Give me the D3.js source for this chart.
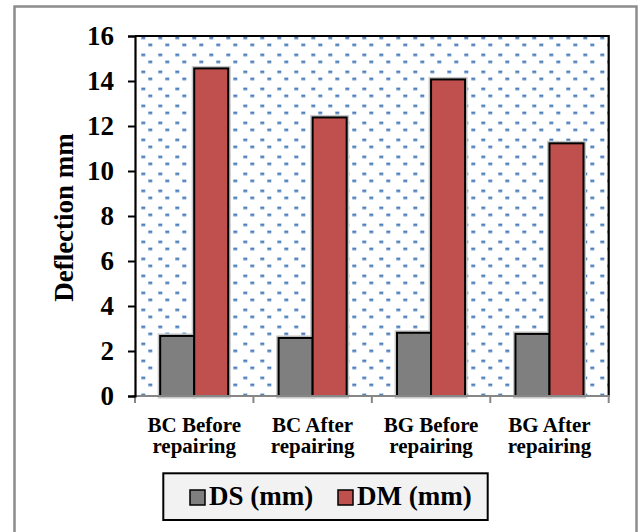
<!DOCTYPE html>
<html>
<head>
<meta charset="utf-8">
<script src="https://cdn.jsdelivr.net/npm/d3@7"></script>
<style>
  body { margin: 0; background: #fff; }
  svg { display: block; }
  text { font-family: "Times New Roman", "Liberation Serif", serif; font-weight: bold; fill: #000; }
</style>
</head>
<body>
<svg id="chart" width="639" height="532"></svg>
<script>
// Mid-span deflection of beams before and after repair
const categories = ["BC Before repairing", "BC After repairing", "BG Before repairing", "BG After repairing"];
const categoryLines = [["BC Before", "repairing"], ["BC After", "repairing"], ["BG Before", "repairing"], ["BG After", "repairing"]];
const seriesNames = ["DS (mm)", "DM (mm)"];
const dsValues = [2.67, 2.58, 2.81, 2.76];
const dmValues = [14.56, 12.38, 14.07, 11.23];
const seriesColors = ["#7f7f7f", "#c0504d"];
const yTicks = [0, 2, 4, 6, 8, 10, 12, 14, 16];
const yTitle = "Deflection mm";

const svg = d3.select("#chart");
const plot = { left: 135, right: 608.7, top: 36, bottom: 396 };
const serif = "\"Times New Roman\", \"Liberation Serif\", serif";

// outer chart frame
svg.append("rect")
  .attr("x", 14.5).attr("y", 6.5).attr("width", 622).attr("height", 530)
  .attr("fill", "#fff").attr("stroke", "#8c8c8c").attr("stroke-width", 2.5);

// dotted plot-area fill
const defs = svg.append("defs");
const pat = defs.append("pattern")
  .attr("id", "dots").attr("patternUnits", "userSpaceOnUse")
  .attr("x", 141.3).attr("y", 36.6).attr("width", 17).attr("height", 17);
pat.append("rect").attr("width", 17).attr("height", 17).attr("fill", "#fff");
pat.append("rect").attr("x", 0).attr("y", 0).attr("width", 4).attr("height", 2.6).attr("fill", "#4f81bd");
pat.append("rect").attr("x", 7).attr("y", 7).attr("width", 4).attr("height", 2.6).attr("fill", "#4f81bd");

svg.append("rect")
  .attr("x", plot.left).attr("y", plot.top)
  .attr("width", plot.right - plot.left).attr("height", plot.bottom - plot.top)
  .attr("fill", "url(#dots)");

const y = d3.scaleLinear().domain([0, 16]).range([plot.bottom, plot.top]);
const x0 = d3.scaleBand().domain(categories).range([plot.left, plot.right]).padding(0);
const x1 = d3.scaleBand().domain(seriesNames).range([0, x0.bandwidth()]).paddingInner(0).paddingOuter(0.74);

const rows = categories.map((c, i) => ({ cat: c, vals: [dsValues[i], dmValues[i]] }));

const groups = svg.append("g").selectAll("g").data(rows).join("g")
  .attr("transform", d => `translate(${x0(d.cat)},0)`);

const barData = d => d.vals.map((v, j) => ({ name: seriesNames[j], value: v, color: seriesColors[j] }));

// soft halo behind bars
groups.selectAll("rect.halo").data(barData).join("rect")
  .attr("class", "halo")
  .attr("x", d => x1(d.name)).attr("width", x1.bandwidth())
  .attr("y", d => y(d.value)).attr("height", d => y(0) - y(d.value))
  .attr("fill", "none").attr("stroke", "#c8c8c8").attr("stroke-width", 5);

groups.selectAll("rect.bar").data(barData).join("rect")
  .attr("class", "bar")
  .attr("x", d => x1(d.name)).attr("width", x1.bandwidth())
  .attr("y", d => y(d.value)).attr("height", d => y(0) - y(d.value))
  .attr("fill", d => d.color).attr("stroke", "#000").attr("stroke-width", 2);

// plot-area border (top and right)
svg.append("path")
  .attr("d", `M${plot.left},${plot.top}H${plot.right}V${plot.bottom}`)
  .attr("fill", "none").attr("stroke", "#000").attr("stroke-width", 2.2);

// x axis
const xAxis = svg.append("g").attr("transform", `translate(0,${plot.bottom})`);
xAxis.append("line").attr("x1", plot.left - 2).attr("x2", plot.right + 1)
  .attr("stroke", "#868686").attr("stroke-width", 2);
const bounds = categories.map(c => x0(c)).concat([plot.right]);
xAxis.selectAll("line.tk").data(bounds).join("line").attr("class", "tk")
  .attr("x1", d => d).attr("x2", d => d).attr("y1", 0).attr("y2", 7)
  .attr("stroke", "#868686").attr("stroke-width", 2);
xAxis.selectAll("text").data(categories).join("text")
  .attr("text-anchor", "middle")
  .style("font-size", "21px")
  .each(function (d, i) {
    const t = d3.select(this);
    const cx = x0(d) + x0.bandwidth() / 2;
    categoryLines[i].forEach((ln, k) => {
      t.append("tspan").attr("x", cx).attr("y", 35.5 + k * 21).text(ln);
    });
  });

// y axis
const yAxis = svg.append("g").attr("transform", `translate(${plot.left},0)`);
yAxis.call(d3.axisLeft(y).tickValues(yTicks).tickSize(7).tickPadding(14).tickFormat(d3.format("d")));
yAxis.select(".domain").attr("stroke", "#000").attr("stroke-width", 2.2);
yAxis.selectAll(".tick line").attr("stroke", "#000").attr("stroke-width", 2);
yAxis.selectAll(".tick text")
  .style("font-size", "27px").style("font-family", serif)
  .style("font-weight", "bold").attr("fill", "#000");

svg.append("text")
  .attr("transform", `translate(73,${(135 + 300) / 2}) rotate(-90)`)
  .attr("text-anchor", "middle")
  .style("font-size", "27px")
  .text(yTitle);

// legend
const lg = svg.append("g");
lg.append("rect").attr("x", 163.3).attr("y", 473.3).attr("width", 324.4).attr("height", 46.7)
  .attr("fill", "#f2f2f2").attr("stroke", "#000").attr("stroke-width", 2);
const legendX = [190, 338];
seriesNames.forEach((n, j) => {
  lg.append("rect").attr("x", legendX[j]).attr("y", 490).attr("width", 15).attr("height", 15)
    .attr("fill", seriesColors[j]).attr("stroke", "#000").attr("stroke-width", 1.5);
  lg.append("text").attr("x", legendX[j] + 19).attr("y", 505)
    .style("font-size", "27px").text(n);
});
</script>
</body>
</html>
